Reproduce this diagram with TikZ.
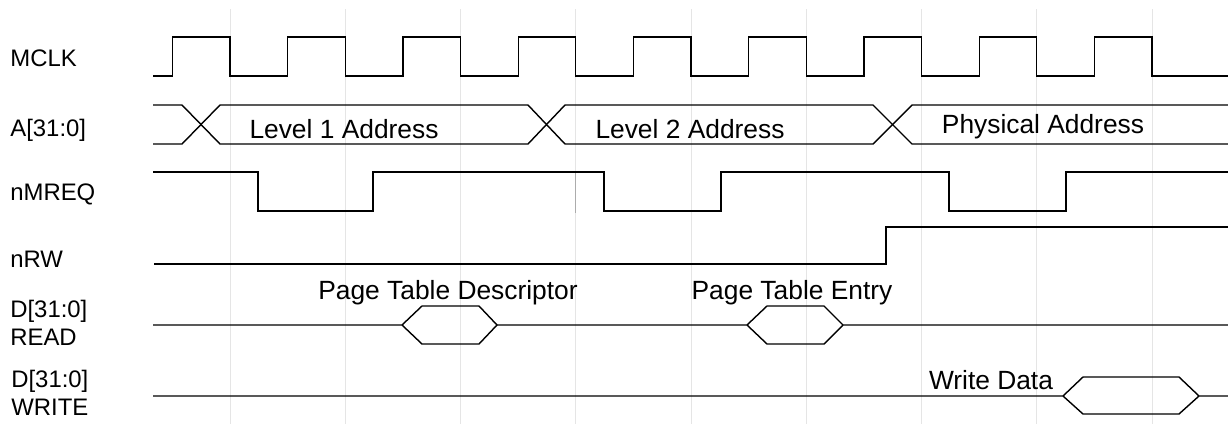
\documentclass[tikz,border=0pt]{standalone}
\usepackage{fontspec}
\setmainfont{Liberation Sans}
\usetikzlibrary{positioning}

\begin{document}
\begin{tikzpicture}[x=0.02cm, y=-0.02cm,
    sig/.style={line width=0.8pt, line join=miter},
    gridline/.style={gray!20, line width=0.55pt},
    siglab/.style={anchor=base west, inner sep=0pt, align=left,
        font=\fontsize{13.6}{15.9}\selectfont},
    buslab/.style={anchor=base, inner sep=0pt,
        font=\fontsize{15}{18}\selectfont}]

        \useasboundingbox (0,0) rectangle (1228,424);

        % ==========================================
        % Griglia: un fronte di discesa di MCLK per riga
        % ==========================================
        \foreach \k in {0,...,8}
            \draw[gridline] ({230+115.25*\k},9) -- ({230+115.25*\k},424);
        \draw[gray!65, line width=0.55pt] (575.5,172) -- (575.5,213);

        % ==========================================
        % Nomi dei segnali (a sinistra)
        % ==========================================
        \node[siglab] (mclk)  at (10,66)  {MCLK};
        \node[siglab] (addr)  at (10,136) {A[31:0]};
        \node[siglab] (nmreq) at (10,200) {nMREQ};
        \node[siglab] (nrw)   at (10,267) {nRW};
        \node[siglab] (dread) at (10,345) {D[31:0]\\READ};
        \node[siglab] (dwrite) at (11,415) {D[31:0]\\WRITE};

        % ==========================================
        % MCLK
        % ==========================================
        \draw[sig] (153,76)
            \foreach \k in {0,...,8} {
                -- ({172.5+115.25*\k},76) -- ({172.5+115.25*\k},37)
                -- ({230+115.25*\k},37) -- ({230+115.25*\k},76)
            } -- (1228,76);

        % ==========================================
        % A[31:0]: bus con tre incroci
        % ==========================================
        \draw[sig] (153,105) -- (182,105) -- (220,144) -- (528,144)
            -- (565,105) -- (873,105) -- (912,144) -- (1228,144);
        \draw[sig] (153,144) -- (182,144) -- (220,105) -- (528,105)
            -- (565,144) -- (873,144) -- (912,105) -- (1228,105);
        \node[buslab] (lvlone) at (344,138) {Level 1 Address};
        \node[buslab] (lvltwo) at (690,138) {Level 2 Address};
        \node[buslab] (phys)   at (1043,133) {Physical Address};

        % ==========================================
        % nMREQ
        % ==========================================
        \draw[sig] (153,172) -- (258,172) -- (258,211) -- (373,211)
            -- (373,172) -- (604,172) -- (604,211) -- (721,211)
            -- (721,172) -- (949,172) -- (949,211) -- (1066,211)
            -- (1066,172) -- (1228,172);

        % ==========================================
        % nRW
        % ==========================================
        \draw[sig] (154,264) -- (886,264) -- (886,227) -- (1228,227);

        % ==========================================
        % D[31:0] in lettura
        % ==========================================
        \draw[sig] (153,325) -- (402,325) -- (422,306) -- (479,306)
            -- (497,325) -- (747,325) -- (767,306) -- (824,306)
            -- (843,325) -- (1228,325);
        \draw[sig] (402,325) -- (422,344) -- (479,344) -- (497,325);
        \draw[sig] (747,325) -- (767,344) -- (824,344) -- (843,325);
        \node[buslab] (ptd) at (448,299) {Page Table Descriptor};
        \node[buslab] (pte) at (792,299) {Page Table Entry};

        % ==========================================
        % D[31:0] in scrittura
        % ==========================================
        \draw[sig] (153,396) -- (1063,396) -- (1083,377) -- (1179,377)
            -- (1199,396) -- (1228,396);
        \draw[sig] (1063,396) -- (1083,414) -- (1179,414) -- (1199,396);
        \node[buslab] (wdata) at (991,389) {Write Data};

    \end{tikzpicture}
\end{document}
